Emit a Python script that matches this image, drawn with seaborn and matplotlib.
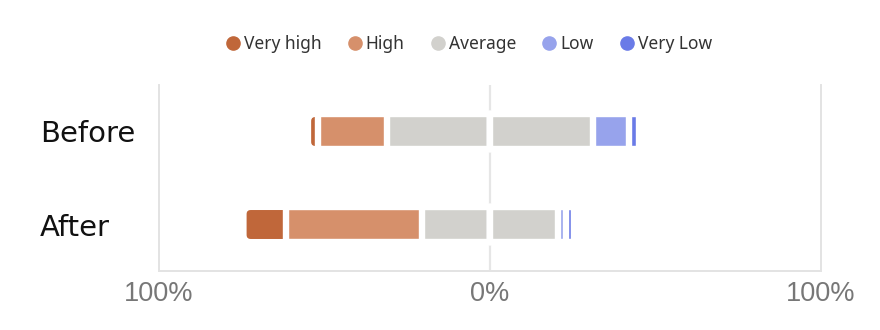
import numpy as np
import pandas as pd
import matplotlib
matplotlib.use("Agg")
import matplotlib.pyplot as plt
from matplotlib.lines import Line2D
from matplotlib.patches import FancyBboxPatch
import seaborn as sns

categories = ["Before", "After"]
levels = ["Very high", "High", "Average", "Low", "Very Low"]
very_high = [3, 13]
high = [21, 41]
average = [62, 41]
low = [11, 2.5]
very_low = [3, 2.5]
tick_values = [-100, 0, 100]
tick_labels = ["100%", "0%", "100%"]

colors = {
    "Very high": "#C0673A",
    "High": "#D6906B",
    "Average": "#D2D1CD",
    "Low": "#97A3EC",
    "Very Low": "#6A7BE7",
}

sns.set_theme(style="white")
plt.rcParams["font.family"] = ["DejaVu Sans"]

df = pd.DataFrame({
    "category": categories,
    "vh": very_high, "h": high, "avg": average, "low": low, "vl": very_low,
})
half = df["avg"] / 2
layers = [
    (-(half + df["h"] + df["vh"]), colors["Very high"]),
    (-(half + df["h"]), colors["High"]),
    (-half, colors["Average"]),
    (half + df["low"] + df["vl"], colors["Very Low"]),
    (half + df["low"], colors["Low"]),
    (half, colors["Average"]),
]

fig = plt.figure(figsize=(8.8, 3.3), dpi=100)
ax = fig.add_axes([159 / 880, 1 - 271 / 330, 662 / 880, 186 / 330])

ax.axvline(0, color="#E6E6E6", lw=1.6, zorder=0)
edge_lw = 4.6
outer = []
for i, (vals, col) in enumerate(layers):
    n_before = len(ax.patches)
    sns.barplot(x=vals, y=df["category"], orient="h", color=col, saturation=1,
                width=0.38, edgecolor="white", linewidth=edge_lw, ax=ax, zorder=2)
    if i == 0:
        outer.extend(ax.patches[n_before:])

ax.set_xlim(-100, 100)
ax.set_ylim(1.5, -0.5)

# round the outer ends of the leftmost segments
aspect = (2 / 186) / (200 / 662)
for p in outer:
    x, y, w, h = p.get_x(), p.get_y(), p.get_width(), p.get_height()
    fb = FancyBboxPatch((min(x, x + w), y), abs(w), h,
                        boxstyle="round,pad=0,rounding_size=2.2",
                        mutation_aspect=aspect,
                        facecolor=p.get_facecolor(), edgecolor="white",
                        linewidth=edge_lw, zorder=1.5)
    p.set_visible(False)
    ax.add_patch(fb)

ax.set_xlabel("")
ax.set_ylabel("")
ax.set_xticks(tick_values)
ax.set_xticklabels(tick_labels, family="Liberation Sans", fontsize=19.5, color="#777777")
ax.tick_params(axis="x", length=0, pad=7)
ax.tick_params(axis="y", length=0, pad=85.7)
for lab in ax.get_yticklabels():
    lab.set_horizontalalignment("left")
    lab.set_fontsize(21)
    lab.set_color("#111111")

for side in ["left", "right", "bottom"]:
    ax.spines[side].set_color("#E3E3E3")
    ax.spines[side].set_linewidth(1.4)
ax.spines["top"].set_visible(False)

handles = [Line2D([0], [0], marker="o", linestyle="none", markersize=9.5,
                  markerfacecolor=colors[l], markeredgecolor=colors[l]) for l in levels]
fig.legend(handles, levels, loc="center", bbox_to_anchor=(469 / 880, 1 - 44 / 330),
           ncol=5, frameon=False, handlelength=0.8, handletextpad=0.25,
           columnspacing=1.5, prop={"family": "Noto Sans", "size": 12.5},
           labelcolor="#333333")

fig.savefig("out.png", dpi=100)
